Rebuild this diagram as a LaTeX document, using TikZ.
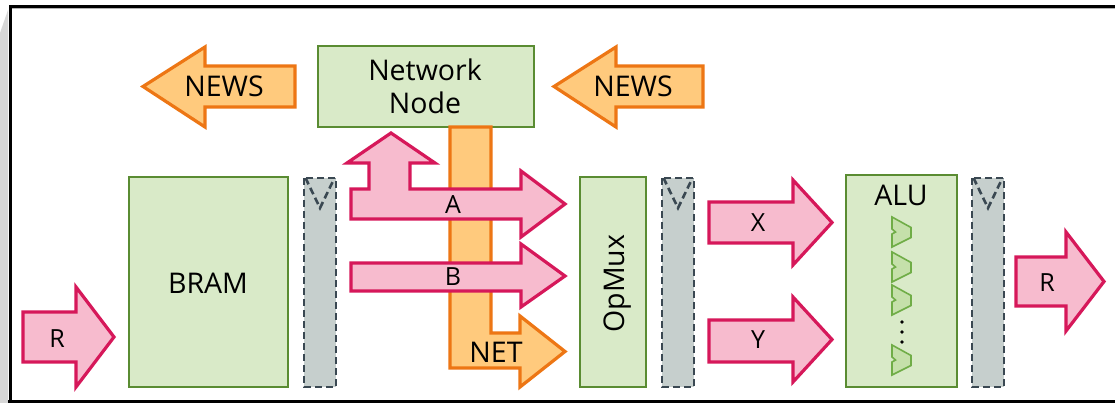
\documentclass[tikz,border=0pt]{standalone}
\usepackage{fontspec}
\setmainfont{Open Sans}
\definecolor{pinkfill}{RGB}{247,187,206}
\definecolor{pinkdraw}{RGB}{214,24,90}
\definecolor{orfill}{RGB}{255,202,125}
\definecolor{ordraw}{RGB}{237,118,20}
\definecolor{grfill}{RGB}{217,234,200}
\definecolor{grdraw}{RGB}{90,140,50}
\definecolor{regfill}{RGB}{198,207,205}
\definecolor{regdraw}{RGB}{58,72,82}
\definecolor{alufill}{RGB}{197,224,170}
\definecolor{aludraw}{RGB}{112,173,71}
\definecolor{sidegray}{RGB}{215,215,215}
\tikzset{
  pinkarrow/.style={fill=pinkfill, draw=pinkdraw, line width=3.2pt, line join=miter},
  orarrow/.style={fill=orfill, draw=ordraw, line width=3.2pt, line join=miter},
  block/.style={fill=grfill, draw=grdraw, line width=2.8pt, inner sep=0pt, outer sep=0pt},
  reg/.style={fill=regfill, draw=regdraw, line width=2.6pt, dash pattern=on 7pt off 4pt},
  regtri/.style={draw=regdraw, line width=2.6pt, dash pattern=on 7pt off 4pt},
  alusym/.style={fill=alufill, draw=aludraw, line width=1.6pt, line join=miter},
  big/.style={font=\fontsize{28.5}{33}\selectfont, inner sep=0pt, anchor=base},
  small/.style={font=\fontsize{25}{30}\selectfont, inner sep=0pt, anchor=base},
}
\begin{document}
\begin{tikzpicture}[x=1pt,y=-1pt]
\useasboundingbox (0,0) rectangle (1115,403);
\fill[white] (0,0) rectangle (1115,403);
% side gray and frame
\fill[sidegray] (0,33) -- (8,10) -- (8,403) -- (0,403) -- cycle;
\draw[black, line width=3pt] (10,403) -- (10,6.5) -- (1115,6.5);
\draw[black, line width=3pt] (8,401.5) -- (1115,401.5);
\draw[gray!60, line width=1pt] (12,8.8) -- (1115,8.8);

% NEWS arrows
\draw[orarrow] (295,66) -- (205,66) -- (205,47) -- (143,86.5) -- (205,127) -- (205,107) -- (295,107) -- cycle;
\node[big] (newsl) at (224,97) {NEWS};
\draw[orarrow] (703,66) -- (616,66) -- (616,47) -- (554,86.5) -- (616,127) -- (616,107) -- (703,107) -- cycle;
\node[big] (newsr) at (633,97) {NEWS};

% Network node
\node[block, minimum width=216, minimum height=81] (net) at (426,86.5) {};
\node[big, align=center] (netlbl) at (425,114) {Network\\Node};

% NET orange L-arrow
\draw[orarrow] (450,127) -- (491,127) -- (491,333) -- (520,333) -- (520,316) -- (565,351.5) -- (520,387) -- (520,368) -- (450,368) -- cycle;
\node[big] (netout) at (496,362) {NET};

% A arrow with upward branch
\draw[pinkarrow] (351,219) -- (351,189) -- (369,189) -- (369,163) -- (347,163) -- (391,133) -- (435,163) -- (410,163) -- (410,189) -- (521,189) -- (521,171) -- (565,204) -- (521,237) -- (521,219) -- cycle;
\node[small] (alab) at (453,214) {A};
% B arrow
\draw[pinkarrow] (351,263) -- (521,263) -- (521,244) -- (565,276) -- (521,307) -- (521,291) -- (351,291) -- cycle;
\node[small] (blab) at (453,285) {B};

% input R
\draw[pinkarrow] (23,312) -- (76,312) -- (76,287) -- (114,337) -- (76,387) -- (76,362) -- (23,362) -- cycle;
\node[small] (rin) at (57,347) {R};

% BRAM
\node[block, minimum width=159, minimum height=210] (bram) at (208.5,282) {};
\node[big] (bramlbl) at (208,293) {BRAM};

% registers
\foreach \n/\xa in {reg1/304, reg2/662, reg3/972}{
  \draw[reg] (\xa,178) rectangle ++(32,209);
  \draw[regtri] (\xa+1.5,178) -- (\xa+16,208) -- (\xa+30.5,178);
}

% OpMux
\node[block, minimum width=66, minimum height=210] (opmux) at (613,282) {};
\node[big, rotate=90] (opmuxlbl) at (624,283.5) {OpMux};

% X, Y arrows
\draw[pinkarrow] (709,202) -- (793,202) -- (793,180) -- (832,222.5) -- (793,265) -- (793,243) -- (709,243) -- cycle;
\node[small] (xlab) at (758,232) {X};
\draw[pinkarrow] (709,320) -- (793,320) -- (793,297) -- (832,339.5) -- (793,382) -- (793,362) -- (709,362) -- cycle;
\node[small] (ylab) at (758,348) {Y};

% ALU
\node[block, minimum width=111, minimum height=212] (alu) at (901.5,281) {};
\node[big] (alulbl) at (901,206) {ALU};
\foreach \cy in {232,267,300,360}{
  \draw[alusym] (892,\cy-15) -- (911,\cy-4.5) -- (911,\cy+5.5) -- (892,\cy+15) -- (892,\cy+2) -- (895.5,\cy) -- (892,\cy-3) -- cycle;
}
\foreach \dy in {322,332,342}{
  \fill[black] (902,\dy) circle (1.8);
}

% output R
\draw[pinkarrow] (1016,257) -- (1066,257) -- (1066,232) -- (1104,281.5) -- (1066,331) -- (1066,306) -- (1016,306) -- cycle;
\node[small] (rout) at (1047,291) {R};
\end{tikzpicture}
\end{document}
